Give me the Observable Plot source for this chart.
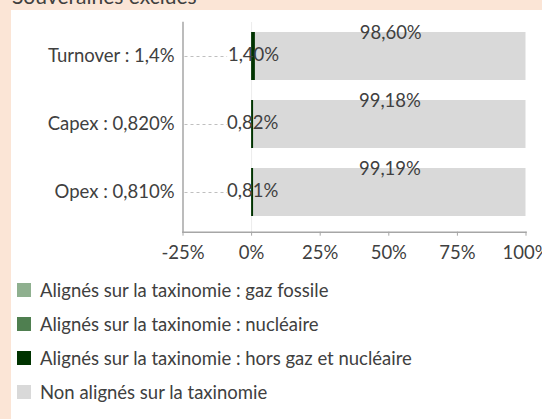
<!DOCTYPE html>
<html><head><meta charset="utf-8">
<script src="https://cdn.jsdelivr.net/npm/d3@7"></script>
<script src="https://cdn.jsdelivr.net/npm/@observablehq/plot@0.6"></script>
<style>
html,body{margin:0;padding:0;}
body{width:542px;height:419px;background:#FBE5D6;position:relative;overflow:hidden;font-family:Lato,sans-serif;color:#404040;}
#title{position:absolute;left:12px;top:-15px;font-size:21px;white-space:nowrap;line-height:1;}
#panel{position:absolute;left:11px;top:10px;right:0;bottom:0;background:#fff;}
#chart{position:absolute;left:0;top:0;}
#legend{position:absolute;left:17px;top:273px;}
.item{display:flex;align-items:center;height:34px;font-size:18.5px;white-space:nowrap;}
.sw{width:14px;height:14px;margin-right:9px;flex:none;}
</style></head><body>
<div id="title">Souveraines exclues</div>
<div id="panel"></div>
<div id="chart"></div>
<div id="legend"></div>
<script>
const categories = ["Turnover", "Capex", "Opex"];
const categoryLabels = ["Turnover : 1,4%", "Capex : 0,820%", "Opex : 0,810%"];
const seriesNames = [
  "Alignés sur la taxinomie : gaz fossile",
  "Alignés sur la taxinomie : nucléaire",
  "Alignés sur la taxinomie : hors gaz et nucléaire",
  "Non alignés sur la taxinomie"
];
const gasFossil = [0, 0, 0];
const nuclear = [0, 0, 0];
const alignedOther = [1.40, 0.82, 0.81];
const notAligned = [98.60, 99.18, 99.19];
const xTicks = [-25, 0, 25, 50, 75, 100];
const seriesColors = ["#8FB08F", "#4F7F50", "#003300", "#D9D9D9"];

const seriesValues = [gasFossil, nuclear, alignedOther, notAligned];
const table = categories.flatMap((c, i) =>
  seriesNames.map((s, j) => ({category: c, series: s, value: seriesValues[j][i]})));
const fmt = v => v.toFixed(2).replace(".", ",") + "%";
const textColor = "#404040";
const axisColor = "#a6a6a6";

const chart = Plot.plot({
  width: 542,
  height: 270,
  marginLeft: 182.5,
  marginRight: 16.5,
  marginTop: 22,
  marginBottom: 38.3,
  style: {background: "transparent", fontFamily: "Lato, sans-serif", fontSize: "18.5px", color: textColor},
  x: {domain: [xTicks[0], xTicks[xTicks.length - 1]], label: null},
  y: {domain: categories, paddingInner: 0.29, paddingOuter: 0.183, align: 0.4, label: null},
  color: {domain: seriesNames, range: seriesColors},
  marks: [
    Plot.ruleX([0], {stroke: "#ececec"}),
    Plot.barX(table, {x: "value", y: "category", fill: "series", order: seriesNames}),
    Plot.ruleY(categories, {y: d => d, x1: xTicks[0], x2: 0, stroke: "#bfbfbf", strokeDasharray: "3,3", insetLeft: 2, insetRight: 24}),
    Plot.text(table, Plot.stackX({
      x: "value", y: "category", z: "series", order: seriesNames,
      text: d => d.series === seriesNames[2] ? fmt(d.value) : "",
      dy: -1.5, fill: textColor
    })),
    Plot.text(table, Plot.stackX({
      x: "value", y: "category", z: "series", order: seriesNames,
      text: d => d.series === seriesNames[3] ? fmt(d.value) : "",
      dy: -23, fill: textColor
    })),
    Plot.axisX({ticks: xTicks, tickFormat: d => d + "%", tickSize: 4, tickPadding: 10, stroke: axisColor, fill: textColor, label: null}),
    Plot.axisY({tickSize: 0, tickPadding: 8.5, tickFormat: c => categoryLabels[categories.indexOf(c)], fill: textColor, label: null}),
    Plot.frame({anchor: "bottom", stroke: axisColor, strokeWidth: 1.5}),
    Plot.frame({anchor: "left", stroke: axisColor, strokeWidth: 1.5})
  ]
});
document.getElementById("chart").appendChild(chart);

const legend = document.getElementById("legend");
seriesNames.forEach((s, i) => {
  const item = document.createElement("div");
  item.className = "item";
  const sw = document.createElement("span");
  sw.className = "sw";
  sw.style.background = seriesColors[i];
  const label = document.createElement("span");
  label.textContent = s;
  item.appendChild(sw);
  item.appendChild(label);
  legend.appendChild(item);
});
</script>
</body></html>
